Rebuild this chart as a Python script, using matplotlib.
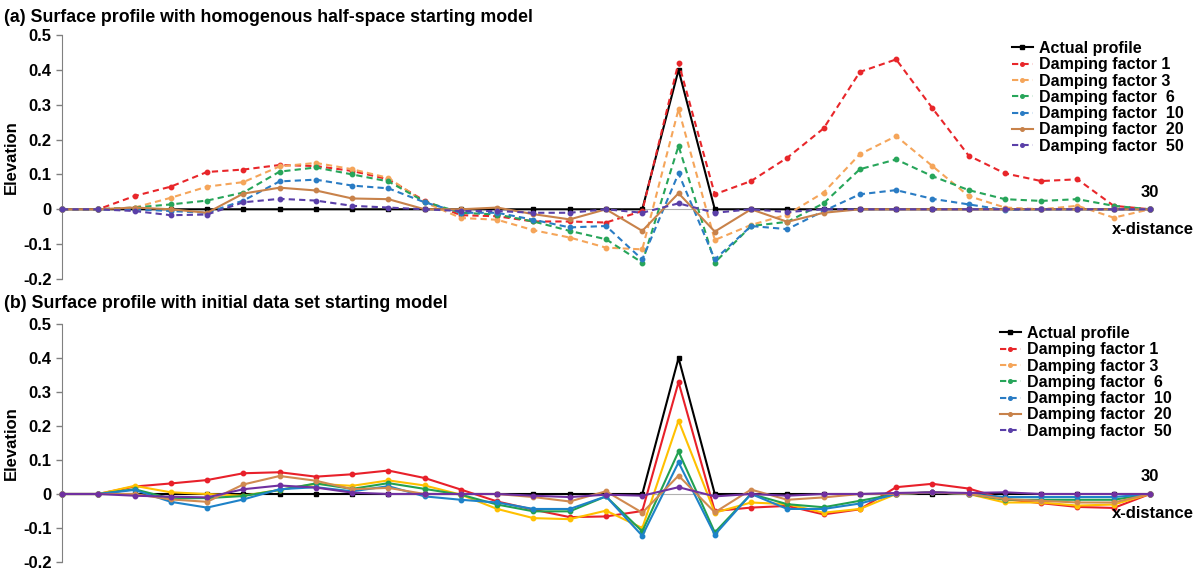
import numpy as np
import matplotlib
matplotlib.use("Agg")
import matplotlib.pyplot as plt
from matplotlib.lines import Line2D

plt.rcParams['font.family'] = ['Liberation Sans', 'DejaVu Sans']
plt.rcParams['font.weight'] = 'bold'

x_dist = list(range(31))

actual = [0, 0, 0, 0, 0, 0, 0, 0, 0, 0, 0, 0, 0, 0, 0, 0, 0, 0.4,
          0, 0, 0, 0, 0, 0, 0, 0, 0, 0, 0, 0, 0]

# (a) homogenous half-space starting model
top_df1 = [0, 0, 0.038, 0.065, 0.107, 0.114, 0.127, 0.124, 0.11, 0.086, 0.024,
           -0.017, -0.02, -0.035, -0.035, -0.038, -0.005, 0.421, 0.043, 0.081,
           0.148, 0.232, 0.394, 0.43, 0.29, 0.154, 0.103, 0.081, 0.086, 0.01, 0]
top_df3 = [0, 0, 0.005, 0.033, 0.065, 0.078, 0.123, 0.133, 0.115, 0.09, 0.02,
           -0.025, -0.03, -0.06, -0.081, -0.11, -0.115, 0.287, -0.088, -0.045,
           -0.015, 0.048, 0.158, 0.21, 0.124, 0.038, 0.005, 0, 0.01, -0.024, 0]
top_df6 = [0, 0, 0.005, 0.014, 0.025, 0.048, 0.108, 0.12, 0.1, 0.08, 0.022,
           -0.01, -0.015, -0.035, -0.062, -0.086, -0.153, 0.182, -0.153, -0.048,
           -0.036, 0.017, 0.115, 0.143, 0.095, 0.055, 0.029, 0.024, 0.029, 0.01, 0]
top_df10 = [0, 0, 0, -0.005, -0.01, 0.025, 0.08, 0.085, 0.068, 0.06, 0.02,
            -0.01, -0.01, -0.03, -0.052, -0.048, -0.144, 0.103, -0.144, -0.048,
            -0.057, -0.005, 0.043, 0.055, 0.03, 0.014, -0.002, 0, 0, 0, 0]
top_df20 = [0, 0, 0.005, 0, -0.01, 0.045, 0.062, 0.054, 0.031, 0.029, 0,
            0, 0.005, -0.014, -0.029, 0, -0.062, 0.046, -0.064, 0,
            -0.036, -0.01, 0, 0, 0, 0, 0, 0, 0, 0, 0]
top_df50 = [0, 0, -0.005, -0.017, -0.015, 0.02, 0.03, 0.025, 0.01, 0.005, 0,
            -0.005, -0.005, -0.01, -0.01, 0, -0.01, 0.017, -0.01, 0,
            -0.008, 0, 0, 0, 0, 0, 0, 0, 0, 0, 0]

# (b) initial data set starting model
bot_df1 = [0, 0, 0.022, 0.031, 0.041, 0.061, 0.064, 0.051, 0.058, 0.069, 0.047,
           0.013, -0.022, -0.046, -0.068, -0.066, -0.05, 0.329, -0.05, -0.04,
           -0.035, -0.06, -0.045, 0.02, 0.03, 0.016, -0.015, -0.027, -0.038, -0.041, 0]
bot_df3 = [0, 0, 0.024, 0.005, 0, -0.005, 0.012, 0.03, 0.024, 0.04, 0.025,
           -0.002, -0.044, -0.071, -0.074, -0.049, -0.1, 0.216, -0.055, -0.025,
           -0.03, -0.055, -0.044, 0, 0.005, 0, -0.025, -0.025, -0.034, -0.031, 0]
bot_df6 = [0, 0, 0.014, -0.013, -0.012, -0.006, 0.012, 0.031, 0.015, 0.032, 0.015,
           -0.002, -0.031, -0.051, -0.051, -0.007, -0.11, 0.125, -0.113, 0,
           -0.03, -0.039, -0.02, 0, 0.005, 0, -0.017, -0.017, -0.017, -0.017, 0]
bot_df10 = [0, 0, 0.012, -0.023, -0.04, -0.016, 0.014, 0.02, 0.008, 0.023, -0.007,
            -0.017, -0.025, -0.044, -0.044, -0.007, -0.123, 0.093, -0.12, 0,
            -0.044, -0.044, -0.028, 0, 0.005, 0, -0.009, -0.009, -0.009, -0.009, 0]
bot_df20 = [0, 0, 0, -0.016, -0.023, 0.028, 0.053, 0.039, 0.014, 0.018, 0,
            0, 0, -0.009, -0.022, 0.008, -0.055, 0.054, -0.054, 0.013,
            -0.017, -0.01, 0, 0, 0.005, 0, -0.015, -0.02, -0.025, -0.025, 0]
bot_df50 = [0, 0, -0.005, -0.008, -0.01, 0.014, 0.025, 0.019, 0.004, 0, 0,
            0, 0, -0.005, -0.009, -0.002, -0.005, 0.02, -0.007, 0,
            -0.005, 0, 0, 0.003, 0.005, 0.003, 0.005, 0, 0, 0, 0]

labels = ['Actual profile', 'Damping factor 1', 'Damping factor 3', 'Damping factor  6',
          'Damping factor  10', 'Damping factor  20', 'Damping factor  50']
top_colors = ['black', '#e8262a', '#f5a55a', '#27a55a', '#2a7cc4', '#c8824a', '#5a3fa8']
bot_colors = ['black', '#e8202a', '#ffc000', '#22a050', '#1e82c8', '#d08a50', '#7030a0']
top_styles = ['-', (0, (3, 2)), (0, (3, 2)), (0, (3, 2)), (0, (3, 2)), '-', (0, (3, 2))]


def style_axis(ax):
    ax.set_xlim(0, 30)
    ax.set_ylim(-0.2, 0.5)
    ax.set_yticks([-0.2, -0.1, 0, 0.1, 0.2, 0.3, 0.4, 0.5])
    ax.set_yticklabels(['-0.2', '-0.1', '0', '0.1', '0.2', '0.3', '0.4', '0.5'])
    ax.set_xticks([])
    for s in ['top', 'right']:
        ax.spines[s].set_visible(False)
    ax.spines['left'].set_color('#808080')
    ax.spines['bottom'].set_position(('data', 0))
    ax.spines['bottom'].set_color('#b0b0b0')
    ax.tick_params(axis='y', colors='#808080', length=4, width=1, labelsize=12,
                   labelcolor='black')
    ax.set_ylabel('Elevation', fontsize=12, fontweight='bold', labelpad=3)
    ax.annotate('30', xy=(30, 0), xytext=(0, 7), textcoords='offset points',
                ha='center', va='bottom', fontsize=12, fontweight='bold')
    ax.annotate('x-distance', xy=(30, 0), xytext=(2, -9), textcoords='offset points',
                ha='center', va='top', fontsize=12, fontweight='bold')


fig = plt.figure(figsize=(12, 5.74), dpi=100)
ax1 = fig.add_axes([62 / 1200, 1 - 279 / 574, 1088 / 1200, 244 / 574])
ax2 = fig.add_axes([62 / 1200, 1 - 562 / 574, 1088 / 1200, 238 / 574])

top_series = [actual, top_df1, top_df3, top_df6, top_df10, top_df20, top_df50]
bot_series = [actual, bot_df1, bot_df3, bot_df6, bot_df10, bot_df20, bot_df50]

for i, (y, c, ls, lab) in enumerate(zip(top_series, top_colors, top_styles, labels)):
    mk = 's' if i == 0 else 'o'
    ax1.plot(x_dist, y, color=c, linestyle=ls, lw=1.5, marker=mk, ms=3.2,
             label=lab, clip_on=False, zorder=3)

for i, (y, c, lab) in enumerate(zip(bot_series, bot_colors, labels)):
    mk = 's' if i == 0 else 'o'
    ax2.plot(x_dist, y, color=c, linestyle='-', lw=1.5, marker=mk, ms=3.2,
             clip_on=False, zorder=3)

style_axis(ax1)
style_axis(ax2)

ax1.legend(loc='upper left', bbox_to_anchor=(1012 / 1200, 1 - 41 / 574),
           bbox_transform=fig.transFigure, frameon=False, fontsize=11.5,
           handlelength=1.3, handletextpad=0.4, labelspacing=0.08, borderpad=0,
           borderaxespad=0, markerscale=0.8)

# legend of panel (b) keeps the same look as panel (a)
bot_handles = [Line2D([], [], color=c, linestyle=ls, lw=1.5,
                      marker=('s' if i == 0 else 'o'), ms=2.6)
               for i, (c, ls) in enumerate(zip(top_colors, top_styles))]
ax2.legend(bot_handles, labels, loc='upper left',
           bbox_to_anchor=(1000 / 1200, 1 - 326 / 574),
           bbox_transform=fig.transFigure, frameon=False, fontsize=11.5,
           handlelength=1.3, handletextpad=0.4, labelspacing=0.08, borderpad=0,
           borderaxespad=0)

fig.text(4 / 1200, 1 - 17 / 574, '(a) Surface profile with homogenous half-space starting model',
         ha='left', va='center', fontsize=12.8, fontweight='bold')
fig.text(4 / 1200, 1 - 303 / 574, '(b) Surface profile with initial data set starting model',
         ha='left', va='center', fontsize=12.8, fontweight='bold')

fig.savefig('out.png', dpi=100)
